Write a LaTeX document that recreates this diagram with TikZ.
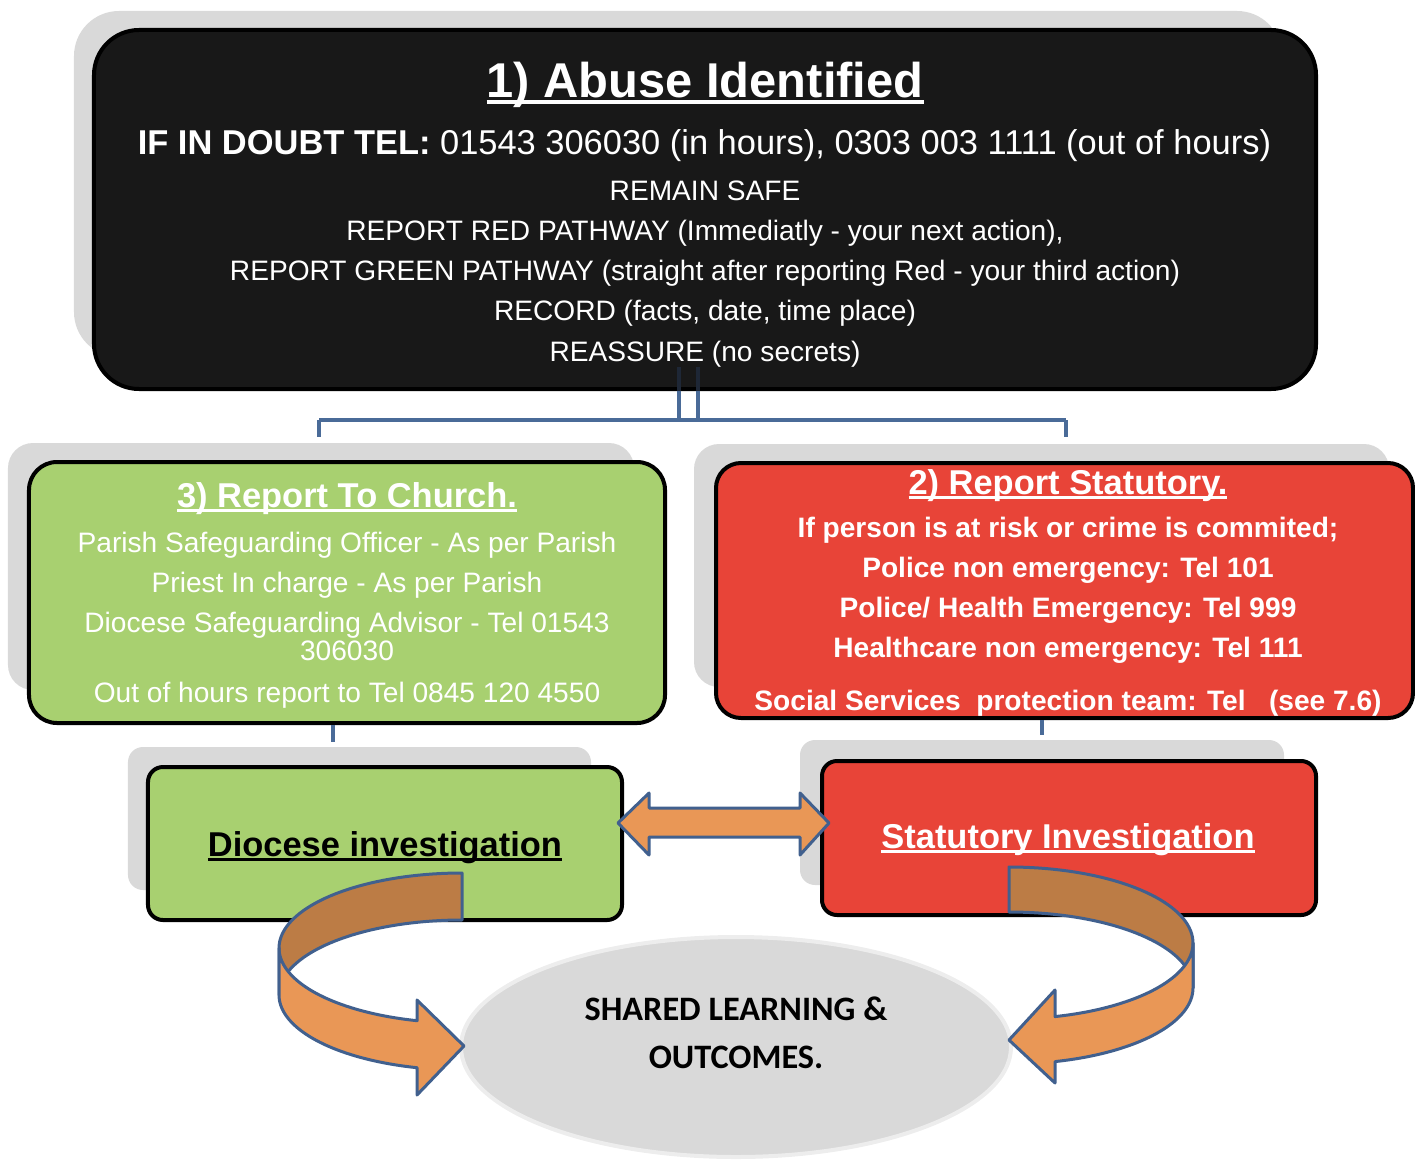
\documentclass[tikz,border=0pt]{standalone}
\usepackage{fontspec}
\setmainfont{Liberation Sans}
\newfontfamily\calibrifont{Carlito}
\usepackage{tikz}
\usetikzlibrary{calc,shapes.geometric}
\definecolor{plategray}{HTML}{D9D9D9}
\definecolor{topfill}{HTML}{181818}
\definecolor{churchgreen}{HTML}{A8D070}
\definecolor{statred}{HTML}{E84438}
\definecolor{linkblue}{HTML}{4A6B98}
\definecolor{linkdark}{HTML}{1E2736}
\definecolor{arrorange}{HTML}{E99756}
\definecolor{arrbrown}{HTML}{BC7C45}
\definecolor{arredge}{HTML}{41608E}
\definecolor{ovaledge}{HTML}{EDEDED}
\newsavebox\undrbox
\newcommand\undr[1]{\sbox\undrbox{#1}\rlap{\rule[-0.14em]{\wd\undrbox}{0.075em}}\usebox\undrbox}
\tikzset{
  plate/.style={fill=plategray, inner sep=0pt},
  topbox/.style={draw=black, fill=topfill, line width=0.8mm, rounded corners=9mm, inner sep=0pt},
  churchbox/.style={draw=black, fill=churchgreen, line width=0.8mm, inner sep=0pt},
  statbox/.style={draw=black, fill=statred, line width=0.8mm, inner sep=0pt},
  link/.style={draw=linkblue, line width=0.8mm},
  fat/.style={draw=arredge, fill=arrorange, line width=0.6mm, line join=round},
  backband/.style={draw=arredge, fill=arrbrown, line width=0.6mm, line join=round},
  frontband/.style={draw=arredge, fill=arrorange, line width=0.6mm, line join=round},
  bigtitle/.style={text=white, font=\fontsize{27.8}{32}\selectfont\bfseries, anchor=base, inner sep=0pt},
  head/.style={font=\fontsize{19.6}{23}\selectfont\bfseries, anchor=base, inner sep=0pt},
  body/.style={font=\fontsize{16}{22.9}\selectfont, align=center, anchor=base, inner sep=0pt},
  ovaltext/.style={font=\fontsize{19.5}{27.2}\selectfont\calibrifont\bfseries, align=center, anchor=base, inner sep=0pt},
}
\begin{document}
\begin{tikzpicture}[x=0.2mm, y=-0.2mm]
  \useasboundingbox (0,0) rectangle (1415,1159);

  % grey plates behind the boxes
  \node[plate, rounded corners=9mm, minimum width=241.6mm, minimum height=69.2mm] (abuseplate) at (678,184) {};
  \node[plate, rounded corners=5mm, minimum width=125.2mm, minimum height=49.4mm] (churchplate) at (321,566.5) {};
  \node[plate, rounded corners=5mm, minimum width=139mm, minimum height=48.6mm] (statplate) at (1041.5,565.5) {};
  \node[plate, rounded corners=3mm, minimum width=92.6mm, minimum height=28.6mm] (diocplate) at (359.5,818.5) {};
  \node[plate, rounded corners=3mm, minimum width=96.8mm, minimum height=29mm] (invplate) at (1042,812.5) {};

  % boxes
  \node[topbox, minimum width=244.4mm, minimum height=71.8mm] (abuse) at (705,209.5) {};
  \node[churchbox, rounded corners=5.6mm, minimum width=127.2mm, minimum height=52.2mm] (church) at (347,592.5) {};
  \node[statbox, rounded corners=5mm, minimum width=139.4mm, minimum height=51mm] (stat) at (1064.5,590.5) {};
  \node[churchbox, rounded corners=3mm, minimum width=94.8mm, minimum height=30.6mm] (dioc) at (385,843.5) {};
  \node[statbox, rounded corners=3mm, minimum width=98.8mm, minimum height=30.8mm] (inv) at (1069,838) {};

  % connectors
  \coordinate (forkL) at (319,420);
  \coordinate (forkR) at (1066,420);
  \draw[link] ([xshift=-5.2mm]abuse.south) -- ([xshift=-5.2mm]abuse.south |- forkL);
  \draw[link] ([xshift=-1.4mm]abuse.south) -- ([xshift=-1.4mm]abuse.south |- forkL);
  \draw[link, draw=linkdark] ([xshift=-5.2mm]abuse.south) -- ++(0,-24);
  \draw[link, draw=linkdark] ([xshift=-1.4mm]abuse.south) -- ++(0,-24);
  \draw[link] (forkL) -- (forkR);
  \draw[link] (forkL) -- ++(0,17);
  \draw[link] (forkR) -- ++(0,17);
  \draw[link] ([xshift=-2.8mm]church.south) -- ++(0,17);
  \draw[link] ([xshift=-4.5mm]stat.south) -- ++(0,15);

  % shared learning oval
  \node[ellipse, fill=plategray, draw=ovaledge, line width=0.8mm, minimum width=110mm, minimum height=44mm] (shared) at (736,1047) {};

  % two way arrow
  \coordinate (tipL) at ([shift={(-6,-20.5)}]dioc.east);
  \coordinate (tipR) at ([shift={(9,-15)}]inv.west);
  \draw[fat] (tipL) -- ++(31,-30) -- ++(0,15) -- ($(tipR)+(-29,-15)$) -- ++(0,-15) -- (tipR)
    -- ++(-29,32) -- ++(0,-18) -- ($(tipL)+(31,14)$) -- ++(0,18) -- cycle;

  % curved arrows into the oval
  \draw[backband] plot[domain=90:180, samples=40] ({462+183*cos(\x)}, {948-75*sin(\x)})
    -- plot[domain=180:90, samples=40] ({462+183*cos(\x)}, {995-75*sin(\x)}) -- cycle;
  \draw[frontband] plot[domain=180:255.8, samples=40] ({462+183*cos(\x)}, {948-75*sin(\x)})
    -- (417,1000) -- (464,1046) -- (417,1095)
    -- plot[domain=255.8:180, samples=40] ({462+183*cos(\x)}, {995-75*sin(\x)}) -- cycle;
  \draw[backband] plot[domain=90:0, samples=40] ({1009+184*cos(\x)}, {943-76*sin(\x)})
    -- plot[domain=0:90, samples=40] ({1009+184*cos(\x)}, {988-76*sin(\x)}) -- cycle;
  \draw[frontband] plot[domain=0:-75.5, samples=40] ({1009+184*cos(\x)}, {943-76*sin(\x)})
    -- (1055,990) -- (1009,1040) -- (1055,1083)
    -- plot[domain=-75.5:0, samples=40] ({1009+184*cos(\x)}, {988-76*sin(\x)}) -- cycle;

  % texts (multi-line nodes sit on their last baseline)
  \node[bigtitle] (abusetitle) at (705,97) {\undr{1) Abuse Identified}};
  \node[text=white, font=\fontsize{19.6}{23}\selectfont, anchor=base, inner sep=0pt] (doubt) at (704.5,154)
    {\textbf{IF IN DOUBT TEL:} 01543 306030 (in hours), 0303 003 1111 (out of hours)};
  \node[body, text=white] (steps) at (705,361)
    {REMAIN SAFE\\
     REPORT RED PATHWAY (Immediatly - your next action),\\
     REPORT GREEN PATHWAY (straight after reporting Red - your third action)\\
     RECORD (facts, date, time place)\\
     REASSURE (no secrets)};

  \node[head, text=white] (churchtitle) at (347,507) {\undr{3) Report To Church.}};
  \node[body, text=white, font=\fontsize{16}{15.9}\selectfont] (churchtext) at (347,702)
    {Parish Safeguarding Officer - As per Parish\\[6.8pt]
     Priest In charge - As per Parish\\[6.8pt]
     Diocese Safeguarding Advisor - Tel 01543\\
     306030\\[7.9pt]
     Out of hours report to Tel 0845 120 4550};

  \node[head, text=white] (stattitle) at (1068,494) {\undr{2) Report Statutory.}};
  \node[body, text=white, font=\fontsize{16}{22.9}\selectfont\bfseries] (stattext) at (1068,710)
    {If person is at risk or crime is commited;\\
     Police non emergency: Tel 101\\
     Police/ Health Emergency: Tel 999\\
     Healthcare non emergency: Tel 111\\[6.8pt]
     Social Services\ \ protection team: Tel\ \ \ (see 7.6)};

  \node[head, text=black] (dioctitle) at (385,856) {\undr{Diocese investigation}};
  \node[head, text=white] (invtitle) at (1068,848) {\undr{Statutory Investigation}};

  \node[ovaltext] (sharedtext) at (736,1068) {SHARED LEARNING \&\\OUTCOMES.};
\end{tikzpicture}
\end{document}
